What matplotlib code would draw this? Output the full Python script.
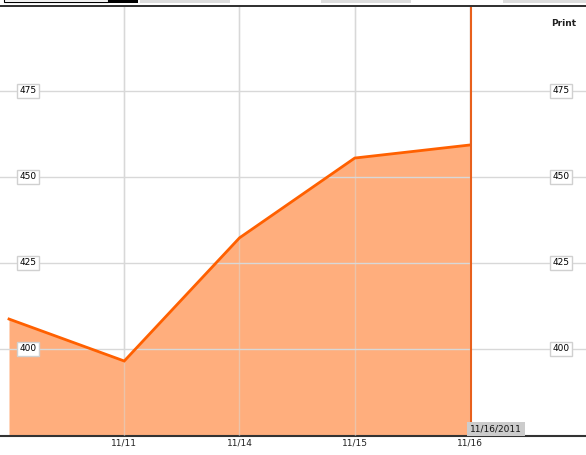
import matplotlib
matplotlib.use("Agg")
import matplotlib.pyplot as plt
from matplotlib.patches import Rectangle

dates = ["11/10", "11/11", "11/14", "11/15", "11/16"]
prices = [408.7, 396.5, 432.3, 455.5, 459.3]
tick_labels = ["11/11", "11/14", "11/15", "11/16"]
tick_idx = [1, 2, 3, 4]
y_ticks = [400, 425, 450, 475]
hover_label = "11/16/2011"

W, H = 586, 455
fig = plt.figure(figsize=(W / 100, H / 100), dpi=100)
fig.patch.set_facecolor("white")

# axes spans pixel x 0..586, y 6..436
ax = fig.add_axes([0, (H - 436) / H, 1, (436 - 6) / H])
x = list(range(len(prices)))
step = 115.25
x0 = -9 / step
x1 = x0 + W / step
ax.set_xlim(x0, x1)
ax.set_ylim(374.7, 499.7)

ax.fill_between(x, prices, 374.7, color="#FFAE7D", lw=0, zorder=2)
ax.plot(x, prices, color="#FF6000", lw=2, zorder=4, solid_joinstyle="miter")
ax.axvline(x[-1] + 1 / step, color="#E8601C", lw=1.5, zorder=5)

for t in tick_idx:
    ax.axvline(t, color="#d8d8d8", lw=1, zorder=1)
    ax.axvline(t, color="#d8d8d8", lw=1, zorder=3, alpha=0.5)
for yv in y_ticks:
    ax.axhline(yv, color="#d8d8d8", lw=1, zorder=3)

ax.set_xticks([])
ax.set_yticks([])
for s in ["top", "left", "right"]:
    ax.spines[s].set_visible(False)
ax.spines["bottom"].set_color("#333333")
ax.spines["bottom"].set_linewidth(1.5)
ax.set_facecolor("none")

box = dict(boxstyle="square,pad=0.25", fc="white", ec="#d0d0d0", lw=1)
for yv in y_ticks:
    ax.text(28 / step + x0, yv, str(yv), fontsize=6.5, ha="center", va="center",
            bbox=box, zorder=6, family="DejaVu Sans")
    ax.text(561 / step + x0, yv, str(yv), fontsize=6.5, ha="center", va="center",
            bbox=box, zorder=6, family="DejaVu Sans")

for t, lab in zip(tick_idx, tick_labels):
    fig.text((9 + t * step) / W, 1 - 443 / H, lab, fontsize=6.5, ha="center",
             va="center", color="#222222")

fig.text(496 / W, 1 - 429 / H, hover_label, fontsize=6.5, ha="center", va="center",
         color="#111111",
         bbox=dict(boxstyle="square,pad=0.3", fc="#cccccc", ec="none"), zorder=10)

fig.text(564 / W, 1 - 23 / H, "Print", fontsize=6.5, fontweight="bold",
         ha="center", va="center", color="#222222")

# top toolbar fragments
def px_rect(x, y, w, h, **kw):
    fig.patches.append(Rectangle((x / W, 1 - (y + h) / H), w / W, h / H,
                                 transform=fig.transFigure, **kw))

px_rect(0, 5, W, 1.5, fc="#333333", ec="none")
px_rect(4, -1, 104, 3, fc="white", ec="black", lw=0.8)
px_rect(108, 0, 30, 2.5, fc="black", ec="none")
px_rect(140, 0, 90, 2.5, fc="#dddddd", ec="none")
px_rect(321, 0, 90, 2.5, fc="#dddddd", ec="none")
px_rect(503, 0, 83, 2.5, fc="#dddddd", ec="none")

fig.savefig("out.png", dpi=100)
